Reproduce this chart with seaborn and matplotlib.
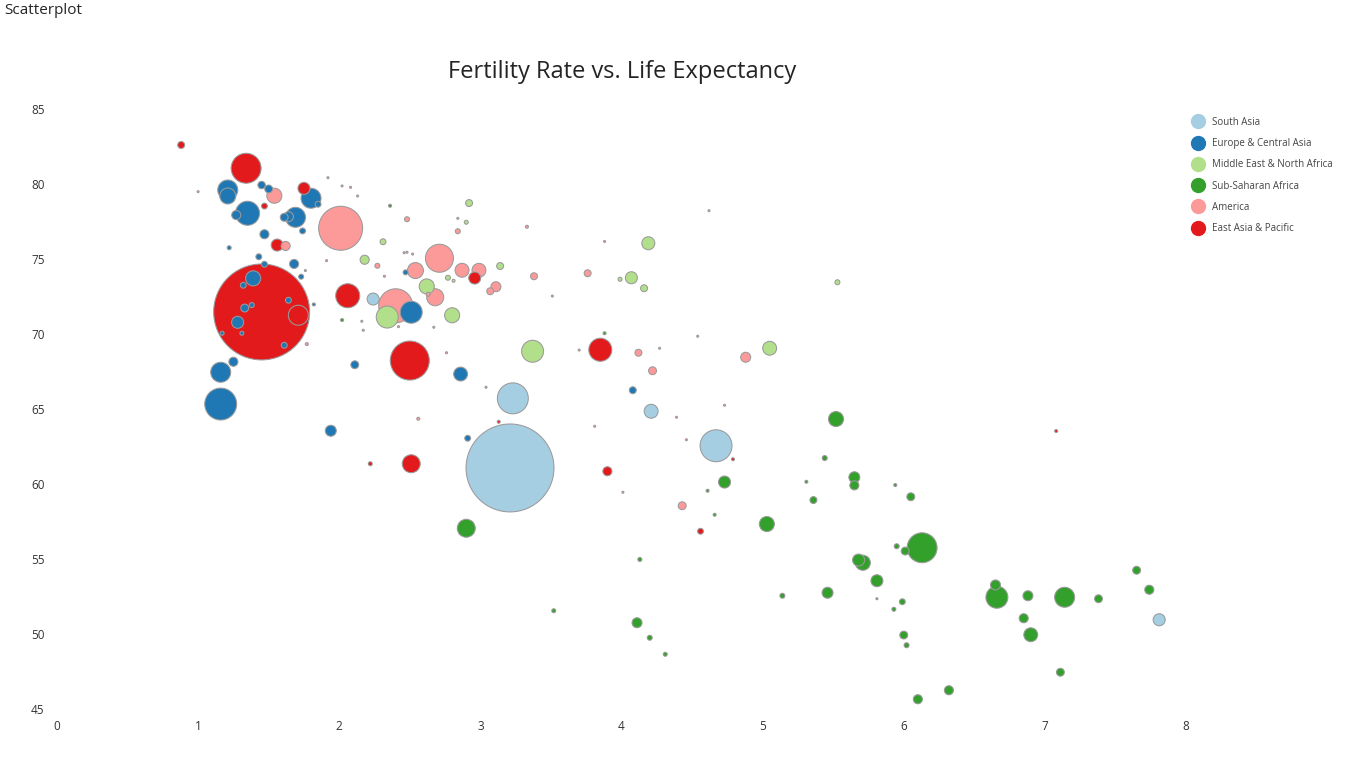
import matplotlib
matplotlib.use("Agg")
import matplotlib.pyplot as plt
from matplotlib.lines import Line2D
import seaborn as sns
import pandas as pd

# ---------------- data ----------------
regions = ["South Asia", "Europe & Central Asia", "Middle East & North Africa",
           "Sub-Saharan Africa", "America", "East Asia & Pacific"]
colors = ["#a6cee3", "#1f78b4", "#b2df8a", "#33a02c", "#fb9a99", "#e31a1c"]

sa_fert = [3.21, 3.23, 4.67, 4.21, 2.24, 7.81]
sa_life = [61.07, 65.71, 62.55, 64.85, 72.33, 50.95]
sa_pop = [1123, 139, 148, 28, 21, 21]

eca_fert = [1.21, 1.21, 1.45, 1.50, 1.35, 1.27, 1.80, 1.85, 1.69, 1.64, 1.61, 1.74,
            1.47, 1.22, 1.43, 1.47, 1.68, 1.73, 2.47, 2.51, 1.39, 1.32, 1.33, 1.38,
            1.28, 1.17, 1.31, 1.64, 1.61, 1.82, 2.11, 1.25, 1.16, 1.16, 2.86, 1.94,
            2.91, 4.08]
eca_life = [79.60, 79.20, 79.93, 79.67, 78.05, 77.93, 79.05, 78.65, 77.78, 77.82, 77.78, 76.87,
            76.65, 75.75, 75.15, 74.65, 74.67, 73.82, 74.11, 71.45, 73.71, 73.25, 71.73, 71.93,
            70.78, 70.05, 70.05, 72.25, 69.25, 71.97, 67.95, 68.15, 67.45, 65.33, 67.33, 63.55,
            63.05, 66.25]
eca_pop = [58, 37, 8, 9, 84, 12, 58, 5, 58, 14.5, 9, 5,
           12, 2.3, 5, 5, 12, 3.6, 3.6, 70, 33, 5, 9, 3.6,
           21, 2.3, 2.3, 5, 5, 1.3, 9, 12, 58, 148, 28, 17.5,
           5, 7]

mena_fert = [3.37, 2.34, 2.62, 2.80, 5.05, 4.19, 4.07, 4.16, 3.99, 5.53, 3.14, 2.92,
             2.90, 2.31, 2.18, 2.77, 2.81]
mena_life = [68.85, 71.13, 73.17, 71.25, 69.05, 76.05, 73.75, 73.05, 73.65, 73.45, 74.53, 78.73,
             77.45, 76.15, 74.95, 73.75, 73.55]
mena_pop = [70, 70, 33, 33, 28, 24.5, 21, 7, 2.3, 3.6, 7, 7,
            2.3, 5, 12, 3.6, 1.3]

ssa_fert = [6.13, 6.66, 7.14, 6.65, 6.88, 7.38, 7.65, 7.74, 6.85, 6.90, 7.11, 6.32,
            6.10, 6.00, 6.02, 5.99, 5.93, 5.81, 5.81, 5.68, 5.71, 5.95, 6.01, 6.05,
            5.94, 5.65, 5.65, 5.52, 5.44, 5.31, 5.36, 5.03, 5.46, 5.14, 4.73, 4.61,
            4.66, 2.90, 4.13, 3.52, 4.11, 4.20, 4.31, 2.36, 2.02, 3.88]
ssa_life = [55.75, 52.45, 52.45, 53.27, 52.55, 52.35, 54.25, 52.95, 51.05, 49.95, 47.45, 46.25,
            45.65, 49.93, 49.25, 52.15, 51.65, 52.35, 53.55, 54.93, 54.75, 55.85, 55.53, 59.15,
            59.93, 60.45, 59.91, 64.33, 61.73, 60.15, 58.93, 57.33, 52.75, 52.55, 60.13, 59.55,
            57.95, 57.05, 54.97, 51.55, 50.75, 49.75, 48.65, 78.55, 70.93, 70.05]
ssa_pop = [130, 70, 58, 14.5, 14.5, 9, 9, 12, 12, 28, 9, 12,
           12, 9, 3.6, 5, 2.3, 0.6, 21, 21, 33, 3.6, 9, 9,
           1.3, 17.5, 12, 33, 3.6, 1.3, 7, 33, 17.5, 3.6, 21, 1.3,
           1.3, 47, 2.3, 2.3, 14.5, 3.6, 2.3, 1.3, 1.3, 1.3]

am_fert = [2.01, 2.40, 2.71, 2.54, 2.68, 2.87, 2.99, 3.11, 3.07, 1.54, 1.62, 2.48,
           2.84, 2.27, 2.63, 3.38, 3.76, 4.12, 4.22, 4.88, 4.43, 1.77, 2.56, 1.00,
           1.76, 1.92, 3.33, 2.84, 2.02, 2.08, 2.13, 2.46, 2.48, 2.52, 2.32, 2.16,
           2.17, 2.42, 2.67, 1.91, 2.76, 3.04, 3.70, 4.27, 4.54, 4.62, 4.73, 4.39,
           4.46, 3.81, 4.01, 3.51, 3.88]
am_life = [77.05, 71.88, 75.05, 74.23, 72.45, 74.25, 74.25, 73.15, 72.85, 79.22, 75.87, 77.65,
           76.85, 74.55, 72.65, 73.85, 74.05, 68.75, 67.55, 68.45, 58.55, 69.33, 64.35, 79.49,
           74.23, 80.42, 77.15, 77.71, 79.87, 79.78, 79.20, 75.42, 75.45, 75.33, 73.85, 70.85,
           70.25, 70.49, 70.45, 74.89, 68.75, 66.45, 68.93, 69.05, 69.85, 78.22, 65.25, 64.45,
           62.95, 63.85, 59.45, 72.53, 76.17]
am_pop = [281, 168, 114, 37, 42, 28, 28, 14.5, 7, 33, 12, 3.6,
          3.6, 3.6, 2.3, 7, 7, 7, 9, 14.5, 9, 1.3, 1.3, 0.6,
          0.6, 0.6, 1.3, 0.6, 0.6, 0.6, 0.6, 0.6, 0.6, 0.6, 0.6, 0.6,
          0.6, 0.6, 0.6, 0.6, 0.6, 0.6, 0.6, 0.6, 0.6, 0.6, 0.6, 0.6,
          0.6, 0.6, 0.6, 0.6, 0.6]

eap_fert = [1.45, 1.34, 0.88, 1.75, 1.47, 1.56, 2.06, 2.96, 2.50, 3.85, 2.51, 2.22,
            3.90, 4.56, 1.71, 3.13, 4.79, 7.08]
eap_life = [71.47, 81.05, 82.60, 79.71, 78.53, 75.93, 72.55, 73.73, 68.23, 68.95, 61.35, 61.35,
            60.85, 56.85, 71.25, 64.15, 61.65, 63.53]
eap_pop = [1336, 130, 7, 21, 5, 21, 84, 21, 221, 77, 47, 2.3,
           12, 5, 58, 1.3, 1.3, 1.3]

fert = sa_fert + eca_fert + mena_fert + ssa_fert + am_fert + eap_fert
life = sa_life + eca_life + mena_life + ssa_life + am_life + eap_life
pop = sa_pop + eca_pop + mena_pop + ssa_pop + am_pop + eap_pop
reg = ([regions[0]] * len(sa_fert) + [regions[1]] * len(eca_fert) +
       [regions[2]] * len(mena_fert) + [regions[3]] * len(ssa_fert) +
       [regions[4]] * len(am_fert) + [regions[5]] * len(eap_fert))

df = pd.DataFrame({"Fertility": fert, "LifeExp": life, "Population": pop, "Region": reg})
df = df.sort_values("Population", ascending=False, kind="stable").reset_index(drop=True)

# ---------------- figure ----------------
sns.set_theme(style="white")
plt.rcParams["font.family"] = ["Open Sans", "DejaVu Sans"]

W, H = 1366, 768
fig = plt.figure(figsize=(W / 100, H / 100), dpi=100)
ax = fig.add_axes([57 / W, 1 - 709 / H, (1186 - 57) / W, (709 - 109) / H])

pal = dict(zip(regions, colors))
pmax = max(pop)
smax = 2.07 * (48 ** 2) * pmax / 1336.0
sns.scatterplot(data=df, x="Fertility", y="LifeExp", hue="Region", hue_order=regions,
                palette=pal, size="Population", sizes=(0, smax), size_norm=(0, pmax),
                edgecolor="#9a9a9a", linewidth=0.75, legend=False, ax=ax, clip_on=False)

ax.set_xlim(0, 8)
ax.set_ylim(45, 85)
ax.set_xticks(range(0, 9))
ax.set_yticks(range(45, 90, 5))
ax.set_xlabel("")
ax.set_ylabel("")
for s in ax.spines.values():
    s.set_visible(False)
ax.grid(False)
ax.tick_params(axis="both", length=0, labelsize=8.5, labelcolor="#333333")
ax.tick_params(axis="y", pad=9)
ax.tick_params(axis="x", pad=8)

fig.text(622 / W, 1 - 72 / H, "Fertility Rate vs. Life Expectancy", ha="center", va="center",
         fontsize=17, color="#252423")
fig.text(4 / W, 1 - 11 / H, "Scatterplot", ha="left", va="center",
         fontsize=11, color="#252423")

handles = [Line2D([0], [0], marker="o", linestyle="", markersize=10,
                  markerfacecolor=c, markeredgecolor=c) for c in colors]
fig.legend(handles, regions, loc="upper left", bbox_to_anchor=(1188 / W, 1 - 113 / H),
           frameon=False, fontsize=7, labelcolor="#444444", handletextpad=0.9,
           labelspacing=1.05, handlelength=1.2, borderaxespad=0)

fig.savefig("out.png", dpi=100, facecolor="white")
